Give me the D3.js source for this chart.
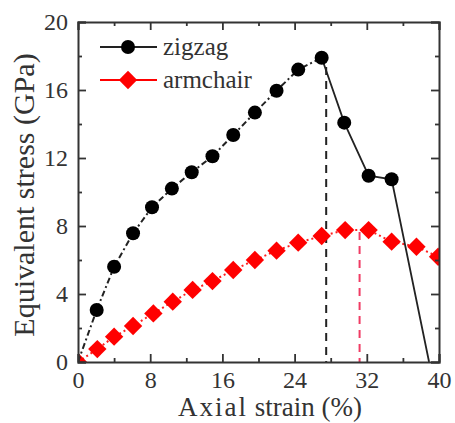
<!DOCTYPE html>
<html lang="en">
<head>
<meta charset="utf-8">
<style>
body { margin: 0; background: #fff; }
text { font-family: "Liberation Serif", "Times New Roman", serif; fill: #333; }
.frame path.domain { stroke: #333; stroke-width: 2px; }
.frame line { stroke: #333; stroke-width: 1.8px; }
</style>
</head>
<body>
<svg width="455" height="423"></svg>
<script src="https://d3js.org/d3.v7.min.js"></script>
<script>

// zigzag series (strain %, stress GPa)
var zigX = [0, 2.07, 4.0, 6.1, 8.2, 10.4, 12.6, 14.9, 17.2, 19.6, 22.0, 24.4, 27.0, 29.5, 32.2, 34.75];
var zigY = [0, 3.06, 5.6, 7.57, 9.1, 10.2, 11.16, 12.1, 13.35, 14.67, 15.96, 17.2, 17.9, 14.08, 10.96, 10.75];
var zigFracture = [38.9, 0];

// armchair series
var armX = [0, 2.14, 4.0, 6.1, 8.35, 10.5, 12.7, 14.9, 17.2, 19.6, 22.0, 24.4, 27.0, 29.6, 32.2, 34.75, 37.5, 39.9];
var armY = [0, 0.76, 1.49, 2.12, 2.86, 3.55, 4.24, 4.76, 5.41, 6.0, 6.55, 7.02, 7.41, 7.76, 7.76, 7.08, 6.78, 6.19];

// vertical guides [x, top y]
var zigGuide = [27.5, 17.35];
var armGuide = [31.2, 7.65];

var xTicks = [0, 8, 16, 24, 32, 40];
var yTicks = [0, 4, 8, 12, 16, 20];
var xMinor = [4, 12, 20, 28, 36];
var yMinor = [2, 6, 10, 14, 18];

var svg = d3.select("svg");
var pL = 78, pR = 439, pT = 22, pB = 362;

var x = d3.scaleLinear().domain([0, 40]).range([pL, pR]);
var y = d3.scaleLinear().domain([0, 20]).range([pB, pT]);

svg.append("defs").append("clipPath").attr("id", "clip")
  .append("rect").attr("x", pL).attr("y", pT)
  .attr("width", pR - pL).attr("height", pB - pT);

var plot = svg.append("g").attr("clip-path", "url(#clip)");

var zig = zigX.map(function(d, i) { return [d, zigY[i]]; });
var arm = armX.map(function(d, i) { return [d, armY[i]]; });

var line = d3.line().x(function(d) { return x(d[0]); }).y(function(d) { return y(d[1]); });

// guides
plot.append("line")
  .attr("x1", x(zigGuide[0])).attr("x2", x(zigGuide[0]))
  .attr("y1", y(zigGuide[1])).attr("y2", y(0))
  .attr("stroke", "#222").attr("stroke-width", 2).attr("stroke-dasharray", "8,6");
plot.append("line")
  .attr("x1", x(armGuide[0])).attr("x2", x(armGuide[0]))
  .attr("y1", y(armGuide[1])).attr("y2", y(0))
  .attr("stroke", "#f03c64").attr("stroke-width", 2).attr("stroke-dasharray", "8,6");

// armchair
plot.append("path").datum(arm)
  .attr("d", line).attr("fill", "none")
  .attr("stroke", "#ff2020").attr("stroke-width", 2).attr("stroke-dasharray", "2,3");
plot.selectAll(".dia").data(arm).enter().append("rect")
  .attr("class", "dia")
  .attr("x", -6.5).attr("y", -6.5).attr("width", 13).attr("height", 13)
  .attr("fill", "#ff0000")
  .attr("transform", function(d) { return "translate(" + x(d[0]) + "," + y(d[1]) + ") rotate(45)"; });

// zigzag: dash-dot up to the peak, solid after
var peak = d3.maxIndex(zigY);
plot.append("path").datum(zig.slice(0, peak + 1))
  .attr("d", line).attr("fill", "none")
  .attr("stroke", "#222").attr("stroke-width", 2).attr("stroke-dasharray", "6,3,2,3");
plot.append("path").datum(zig.slice(peak).concat([zigFracture]))
  .attr("d", line).attr("fill", "none")
  .attr("stroke", "#222").attr("stroke-width", 1.8);
plot.selectAll(".dot").data(zig.slice(1)).enter().append("circle")
  .attr("class", "dot")
  .attr("cx", function(d) { return x(d[0]); })
  .attr("cy", function(d) { return y(d[1]); })
  .attr("r", 7).attr("fill", "#000");

// axes, ticks inward
function fmt(d) { return d; }
function big(g) { g.selectAll("text").attr("font-size", 24).attr("fill", "#333").attr("font-family", "Liberation Serif"); }

svg.append("g").attr("class", "frame").attr("transform", "translate(0," + pB + ")")
  .call(d3.axisBottom(x).tickValues(xTicks).tickSize(-8).tickPadding(9).tickFormat(fmt))
  .call(big);
svg.append("g").attr("class", "frame").attr("transform", "translate(0," + pB + ")")
  .call(d3.axisBottom(x).tickValues(xMinor).tickSize(-4).tickFormat(""))
  .select(".domain").remove();
svg.append("g").attr("class", "frame").attr("transform", "translate(0," + pT + ")")
  .call(d3.axisTop(x).tickValues(xTicks).tickSize(-8).tickFormat(""));
svg.append("g").attr("class", "frame").attr("transform", "translate(0," + pT + ")")
  .call(d3.axisTop(x).tickValues(xMinor).tickSize(-4).tickFormat(""))
  .select(".domain").remove();

svg.append("g").attr("class", "frame").attr("transform", "translate(" + pL + ",0)")
  .call(d3.axisLeft(y).tickValues(yTicks).tickSize(-8).tickPadding(10).tickFormat(fmt))
  .call(big);
svg.append("g").attr("class", "frame").attr("transform", "translate(" + pL + ",0)")
  .call(d3.axisLeft(y).tickValues(yMinor).tickSize(-4).tickFormat(""))
  .select(".domain").remove();
svg.append("g").attr("class", "frame").attr("transform", "translate(" + pR + ",0)")
  .call(d3.axisRight(y).tickValues(yTicks).tickSize(-8).tickFormat(""));
svg.append("g").attr("class", "frame").attr("transform", "translate(" + pR + ",0)")
  .call(d3.axisRight(y).tickValues(yMinor).tickSize(-4).tickFormat(""))
  .select(".domain").remove();

// axis titles
var xt = svg.append("text").attr("x", 270).attr("y", 416)
  .attr("text-anchor", "middle").attr("font-size", 27);
xt.append("tspan").attr("letter-spacing", 2).text("Axial");
xt.append("tspan").text(" strain (%)");

svg.append("text")
  .attr("transform", "translate(34,195) rotate(-90)")
  .attr("text-anchor", "middle").attr("font-size", 30)
  .text("Equivalent stress (GPa)");

// legend
var legend = [
  { name: "zigzag", color: "#222", shape: "circle" },
  { name: "armchair", color: "#ff0000", shape: "diamond" }
];
var lg = svg.append("g").selectAll("g").data(legend).enter().append("g")
  .attr("transform", function(d, i) { return "translate(100," + (47 + i * 33) + ")"; });
lg.append("line").attr("x1", 0).attr("x2", 57)
  .attr("stroke", function(d) { return d.color; }).attr("stroke-width", 2);
lg.each(function(d) {
  var g = d3.select(this);
  if (d.shape === "circle") {
    g.append("circle").attr("cx", 28).attr("r", 7).attr("fill", "#000");
  } else {
    g.append("rect").attr("x", -6.5).attr("y", -6.5).attr("width", 13).attr("height", 13)
      .attr("fill", d.color).attr("transform", "translate(28,0) rotate(45)");
  }
});
lg.append("text").attr("x", 63).attr("y", 8).attr("font-size", 25)
  .text(function(d) { return d.name; });

</script>
</body>
</html>
